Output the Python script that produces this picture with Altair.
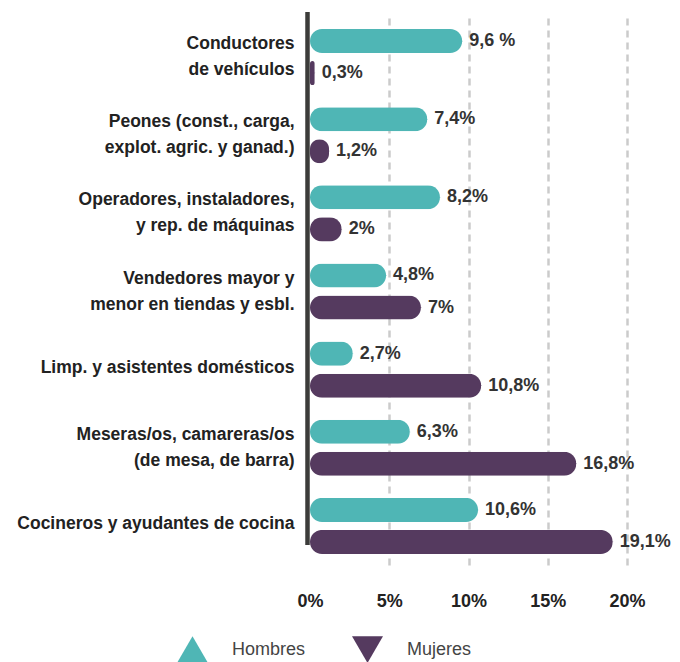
import altair as alt
import pandas as pd

categorias = [
    "Conductores \nde vehículos",
    "Peones (const., carga, \nexplot. agric. y ganad.)",
    "Operadores, instaladores,\ny rep. de máquinas",
    "Vendedores mayor y \nmenor en tiendas y esbl. ",
    "Limp. y asistentes domésticos",
    "Meseras/os, camareras/os\n(de mesa, de barra)",
    "Cocineros y ayudantes de cocina",
]
hombres = [9.6, 7.4, 8.2, 4.8, 2.7, 6.3, 10.6]
mujeres = [0.3, 1.2, 2.0, 7.0, 10.8, 16.8, 19.1]
etiquetas_h = ["9,6 %", "7,4%", "8,2%", "4,8%", "2,7%", "6,3%", "10,6%"]
etiquetas_m = ["0,3%", "1,2%", "2%", "7%", "10,8%", "16,8%", "19,1%"]
sexos = ["Hombres", "Mujeres"]
colores = ["#4fb6b5", "#553a5f"]
ticks_x = [0, 5, 10, 15, 20]

rows = []
for c, h, m, eh, em in zip(categorias, hombres, mujeres, etiquetas_h, etiquetas_m):
    rows.append({"categoria": c, "sexo": "Hombres", "valor": h, "etiqueta": eh})
    rows.append({"categoria": c, "sexo": "Mujeres", "valor": m, "etiqueta": em})
df = pd.DataFrame(rows)

FONT = "Liberation Sans"

y = alt.Y(
    "categoria:N",
    sort=categorias,
    scale=alt.Scale(paddingInner=0, paddingOuter=0),
    axis=alt.Axis(
        title=None, domain=False, ticks=False, labelPadding=16,
        labelFontSize=17.5, labelFont=FONT, labelFontWeight="bold",
        labelColor="#222222", labelLimit=400, labelLineHeight=26,
        labelExpr="split(datum.label, '\\n')", labelAlign="right",
        labelBaseline="middle",
        labelOffset={"condition": {"test": "indexof(datum.value, '\\n') >= 0", "value": -13},
                     "value": -2},
    ),
)
yoff = alt.YOffset("sexo:N", sort=sexos,
                   scale=alt.Scale(paddingInner=0.25, paddingOuter=0.34375))
x = alt.X(
    "valor:Q",
    scale=alt.Scale(domain=[0, 20], nice=False, zero=True),
    axis=alt.Axis(
        title=None, values=ticks_x, labelExpr="datum.value + '%'",
        domain=False, ticks=False, labelPadding=27, labelFontSize=18,
        labelFont=FONT, labelFontWeight="bold", labelColor="#222222",
        labelFlush=False,
        grid=True, gridDash=[7, 5], gridWidth=2.5,
        gridColor={"condition": {"test": "datum.value === 0", "value": "transparent"},
                   "value": "#cbcbcb"},
    ),
)
leg = alt.Legend(
    orient="none", legendX=-133, legendY=616, direction="horizontal",
    title=None, symbolSize=960, symbolStrokeWidth=0, labelFont=FONT,
    labelFontSize=18, labelColor="#444444", labelFontWeight="normal",
    labelOffset=24, columnPadding=46, padding=0, symbolOpacity=1,
)
color_leg = alt.Color("sexo:N", scale=alt.Scale(domain=sexos, range=colores), legend=leg)
shape_leg = alt.Shape("sexo:N",
                      scale=alt.Scale(domain=sexos, range=["triangle-up", "triangle-down"]),
                      legend=leg)
color = alt.Color("sexo:N", scale=alt.Scale(domain=sexos, range=colores), legend=None)

base = alt.Chart(df)

pts = base.mark_point(filled=True, size=1, opacity=1).encode(
    x=x, y=y, yOffset=yoff, color=color_leg, shape=shape_leg
)
bars = base.mark_bar(cornerRadius=12).encode(x=x, y=y, yOffset=yoff, color=color)
texts = base.mark_text(
    align="left", baseline="middle", dx=7, font=FONT, fontSize=18,
    fontWeight="bold", color="#333333"
).encode(x=x, y=y, yOffset=yoff, text="etiqueta:N")

rule = alt.Chart(pd.DataFrame({"k": [0]})).mark_rule(
    color="#3c3c3a", strokeWidth=4.5, xOffset=-2.5
).encode(x=alt.datum(0), y=alt.value(-6), y2=alt.value(527))

chart = alt.layer(pts, bars, texts, rule).properties(
    width=317, height=547,
    autosize=alt.AutoSizeParams(type="none"),
    padding={"left": 302, "top": 10, "right": 45, "bottom": 97},
).configure_view(stroke=None)

chart.save("out.html", embed_options={"renderer": "svg", "actions": False})
